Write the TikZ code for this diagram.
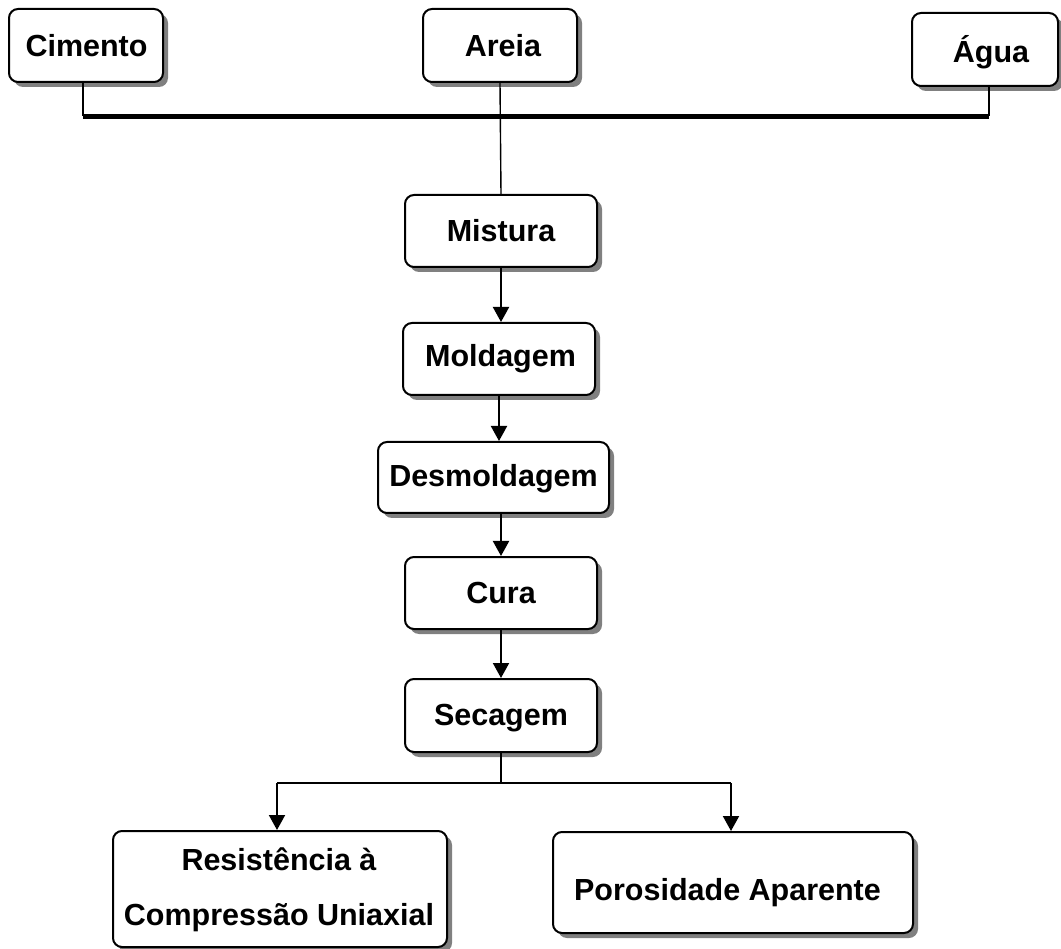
\documentclass[tikz,border=0pt]{standalone}
\usepackage{fontspec}
\setmainfont{Liberation Sans}
\usetikzlibrary{arrows.meta,shadows}
\begin{document}
\begin{tikzpicture}[x=1pt,y=-1pt,
  box/.style={draw, line width=2pt, rounded corners=9pt, fill=white, inner sep=0pt,
    drop shadow={shadow xshift=5pt, shadow yshift=-5pt, fill=gray, opacity=1}},
  txt/.style={font=\fontsize{30.5}{36}\selectfont\bfseries, anchor=base, inner sep=0pt},
  conn/.style={line width=2pt},
  thin/.style={line width=1.4pt},
  arr/.style={line width=2pt, -{Triangle[width=16pt,length=15pt]}}]
\path[use as bounding box] (0,0) rectangle (1061,949);
% boxes
\node[box, minimum width=154pt, minimum height=73pt] (cim) at (86,45.5) {};
\node[box, minimum width=154pt, minimum height=73pt] (are) at (500,45.5) {};
\node[box, minimum width=146pt, minimum height=73pt] (agu) at (985,49.5) {};
\node[box, minimum width=192pt, minimum height=72pt] (mis) at (501,231) {};
\node[box, minimum width=192pt, minimum height=72pt] (mol) at (499,359) {};
\node[box, minimum width=231pt, minimum height=71pt] (des) at (493.5,477.5) {};
\node[box, minimum width=192pt, minimum height=72pt] (cur) at (501,593) {};
\node[box, minimum width=192pt, minimum height=73pt] (sec) at (501,715.5) {};
\node[box, minimum width=334pt, minimum height=116pt] (res) at (280,889) {};
\node[box, minimum width=360pt, minimum height=101pt] (por) at (733,882.5) {};
% texts
\node[txt] (cimt) at (86.5,57) {Cimento};
\node[txt] (aret) at (503,57) {Areia};
\node[txt] (agut) at (991,63) {Água};
\node[txt] (mist) at (501,242) {Mistura};
\node[txt] (molt) at (500.5,367) {Moldagem};
\node[txt] (dest) at (493.5,487) {Desmoldagem};
\node[txt] (curt) at (501,603) {Cura};
\node[txt] (sect) at (501,725) {Secagem};
\node[txt] (rest1) at (279,870) {Resistência à};
\node[txt] (rest2) at (279,925) {Compressão Uniaxial};
\node[txt] (port) at (727.5,900) {Porosidade Aparente};
% top bar
\coordinate (barL) at (83,116.5);
\coordinate (barR) at (989,116.5);
\draw[line width=4.5pt] (barL) -- (barR);
\draw[conn] (cim.south -| barL) -- (barL);
\draw[conn] (agu.south -| barR) -- (barR);
\draw[thin] (are.south) -- (mis.north);
% chain
\draw[arr] (mis.south) -- (mis.south |- mol.north);
\draw[arr] (mol.south) -- (mol.south |- des.north);
\draw[arr] (cur.north |- des.south) -- (cur.north);
\draw[arr] (cur.south) -- (sec.north);
% split
\coordinate (jL) at (277,783);
\coordinate (jR) at (731,783);
\draw[thin] (sec.south) -- (sec.south |- jL);
\draw[conn] (jL) -- (jR);
\draw[arr] (jL) -- (jL |- res.north);
\draw[arr] (jR) -- (jR |- por.north);
\end{tikzpicture}
\end{document}
